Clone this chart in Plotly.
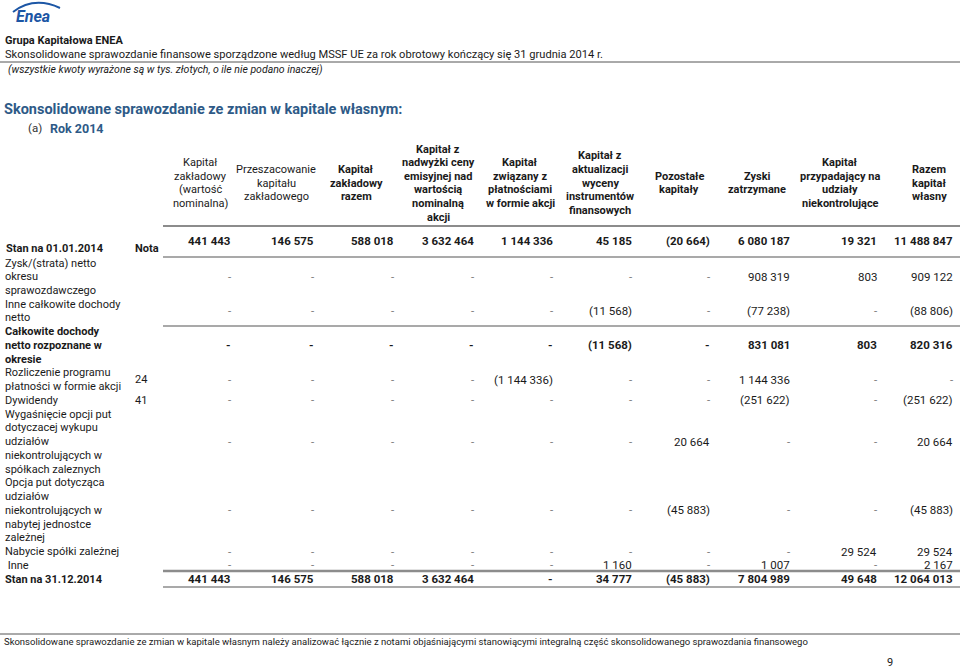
import plotly.graph_objects as go

# ---------------- data ----------------
col_headers = [
    ["Kapitał", "zakładowy", "(wartość", "nominalna)"],
    ["Przeszacowanie", "kapitału", "zakładowego"],
    ["Kapitał", "zakładowy", "razem"],
    ["Kapitał z", "nadwyżki ceny", "emisyjnej nad", "wartością", "nominalną", "akcji"],
    ["Kapitał", "związany z", "płatnościami", "w formie akcji"],
    ["Kapitał z", "aktualizacji", "wyceny", "instrumentów", "finansowych"],
    ["Pozostałe", "kapitały"],
    ["Zyski", "zatrzymane"],
    ["Kapitał", "przypadający na", "udziały", "niekontrolujące"],
    ["Razem", "kapitał", "własny"],
]
header_bold = [False, False, True, True, True, True, True, True, True, True]

row_labels = [
    ["Zysk/(strata) netto", "okresu", "sprawozdawczego"],
    ["Inne całkowite dochody", "netto"],
    ["Całkowite dochody", "netto rozpoznane w", "okresie"],
    ["Rozliczenie programu", "płatności w formie akcji"],
    ["Dywidendy"],
    ["Wygaśnięcie opcji put", "dotyczacej wykupu", "udziałów", "niekontrolujących w", "spółkach zaleznych"],
    ["Opcja put dotycząca", "udziałów", "niekontrolujących w", "nabytej jednostce", "zależnej"],
    ["Nabycie spółki zależnej"],
    [" Inne"],
    ["Stan na 31.12.2014"],
]
row_notes = ["", "", "", "24", "41", "", "", "", "", ""]
row_bold = [False, False, True, False, False, False, False, False, False, True]

opening_2014 = [441443, 146575, 588018, 3632464, 1144336, 45185, -20664, 6080187, 19321, 11488847]
net_profit = [0, 0, 0, 0, 0, 0, 0, 908319, 803, 909122]
other_ci = [0, 0, 0, 0, 0, -11568, 0, -77238, 0, -88806]
total_ci = [0, 0, 0, 0, 0, -11568, 0, 831081, 803, 820316]
share_payments = [0, 0, 0, 0, -1144336, 0, 0, 1144336, 0, 0]
dividends = [0, 0, 0, 0, 0, 0, 0, -251622, 0, -251622]
put_expiry = [0, 0, 0, 0, 0, 0, 20664, 0, 0, 20664]
put_option = [0, 0, 0, 0, 0, 0, -45883, 0, 0, -45883]
acquisition = [0, 0, 0, 0, 0, 0, 0, 0, 29524, 29524]
other = [0, 0, 0, 0, 0, 1160, 0, 1007, 0, 2167]
closing_2014 = [441443, 146575, 588018, 3632464, 0, 34777, -45883, 7804989, 49648, 12064013]

row_values = [net_profit, other_ci, total_ci, share_payments, dividends,
              put_expiry, put_option, acquisition, other, closing_2014]

# ---------------- layout helpers ----------------
W, H = 960, 669
FONT = "Roboto"
TXT = "#1a1a1a"
DASH = "#7a7a7a"
GRAY = "#8c8c8c"
BLUE = "#2e5a87"

col_right = [233, 316, 396, 476, 555, 634, 712, 792, 879, 955]
col_center = [200, 276, 356, 438, 520, 600, 679, 757, 840, 929]


def fmt(v):
    if v == 0 or v is None:
        return "-"
    s = f"{abs(v):,}".replace(",", " ")
    return f"({s})" if v < 0 else s


ann = []


def text(x, y, t, size=11, bold=False, xanchor="left", color=TXT, italic=False, family=FONT):
    if bold:
        t = f"<b>{t}</b>"
    if italic:
        t = f"<i>{t}</i>"
    ann.append(dict(x=x, y=y, text=t, xref="x", yref="y", showarrow=False,
                    xanchor=xanchor, yanchor="middle",
                    font=dict(family=family, size=size, color=color)))


shapes = []


def hline(y, x0, x1, width=1, color=GRAY):
    shapes.append(dict(type="line", xref="x", yref="y", x0=x0, x1=x1, y0=y, y1=y,
                       line=dict(color=color, width=width)))


# ---------------- page header ----------------
shapes.append(dict(type="path", xref="x", yref="y",
                   path="M 13 12 Q 34 -4 60 8", line=dict(color="#1c56a5", width=2)))
text(14, 16, "Enea", size=16, bold=True, italic=True, color="#1c56a5")
text(3, 40, "Grupa Kapitałowa ENEA", size=11, bold=True)
text(3, 54, "Skonsolidowane sprawozdanie finansowe sporządzone według MSSF UE za rok obrotowy "
            "kończący się 31 grudnia 2014 r.", size=11.1)
hline(62, 0, 960, 1, "#555555")
text(6, 69, "(wszystkie kwoty wyrażone są w tys. złotych, o ile nie podano inaczej)", size=10.5, italic=True)

text(2, 109, "Skonsolidowane sprawozdanie ze zmian w kapitale własnym:", size=14.5,
     bold=True, color=BLUE)
text(26, 128, "(a)", size=11.5, color="#333333")
text(48, 128, "Rok 2014", size=12.5, bold=True, color=BLUE)

# ---------------- column headers ----------------
HL = 13.6
for i, lines in enumerate(col_headers):
    n = len(lines)
    y0 = 183 - (n - 1) * HL / 2
    for k, ln in enumerate(lines):
        text(col_center[i], y0 + k * HL, ln, size=11, bold=header_bold[i], xanchor="center")

hline(226, 163, 960, 2)

# ---------------- opening balance ----------------
VS = 11.5
text(4, 248, "Stan na 01.01.2014", size=11, bold=True)
text(133, 248, "Nota", size=11, bold=True)
for i, v in enumerate(opening_2014):
    text(col_right[i], 241, fmt(v), size=VS, bold=True, xanchor="right")
hline(257, 163, 960, 1.5)

# ---------------- movement rows ----------------
LINE0, STEP = 263, 13.74
li = 0
for r, lines in enumerate(row_labels):
    ys = []
    for ln in lines:
        y = LINE0 + li * STEP
        ys.append(y)
        text(3, y, ln, size=11, bold=row_bold[r])
        li += 1
    yc = sum(ys) / len(ys)
    if row_notes[r]:
        text(133, yc, row_notes[r], size=11)
    for i, v in enumerate(row_values[r]):
        s = fmt(v)
        c = DASH if (s == "-" and not row_bold[r]) else TXT
        text(col_right[i], yc, s, size=VS, bold=row_bold[r], xanchor="right", color=c)

hline(326, 163, 960, 1.5)
hline(571, 163, 960, 2.5)
hline(587, 163, 960, 1.5)

# ---------------- footer ----------------
hline(634, 0, 960, 1, "#555555")
text(2, 641, "Skonsolidowane sprawozdanie ze zmian w kapitale własnym należy analizować łącznie z notami "
             "objaśniającymi stanowiącymi integralną część skonsolidowanego sprawozdania finansowego",
     size=9.5)
text(890, 662, "9", size=11, xanchor="center")

fig = go.Figure()
fig.update_layout(
    width=W, height=H,
    margin=dict(l=0, r=0, t=0, b=0),
    paper_bgcolor="white", plot_bgcolor="white",
    xaxis=dict(range=[0, W], visible=False, fixedrange=True),
    yaxis=dict(range=[H, 0], visible=False, fixedrange=True),
    annotations=ann, shapes=shapes, showlegend=False,
)
fig.write_html("out.html", config={"displayModeBar": False},
               post_script="document.body.style.margin='0';document.body.style.overflow='hidden';")
